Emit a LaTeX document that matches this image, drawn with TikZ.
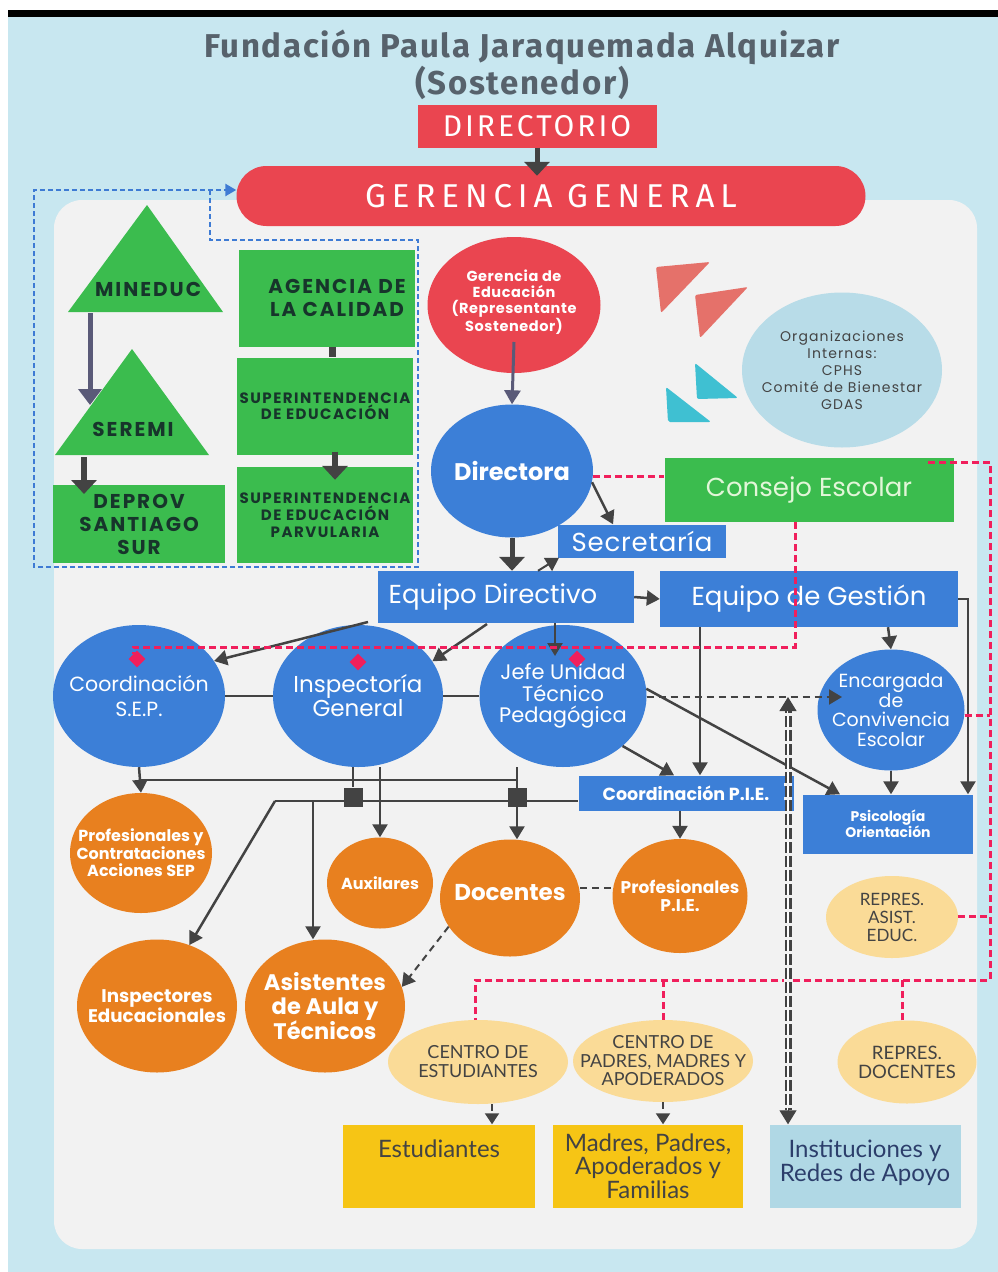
\documentclass[tikz,border=0pt]{standalone}
\usepackage{fontspec}
\setmainfont{Fira Sans}
\newfontfamily\popp{Poppins}
\newfontfamily\lato{Lato}
\usetikzlibrary{shapes.geometric, arrows.meta, positioning}
\definecolor{colorSky}{HTML}{C8E7F0}
\definecolor{colorPanel}{HTML}{F2F2F2}
\definecolor{colorTitle}{HTML}{57626C}
\definecolor{colorRed}{HTML}{EA4550}
\definecolor{colorBlue}{HTML}{3C7FD7}
\definecolor{colorGreen}{HTML}{3BBC4E}
\definecolor{colorOrange}{HTML}{E8801F}
\definecolor{colorPale}{HTML}{FADB97}
\definecolor{colorYellow}{HTML}{F6C515}
\definecolor{colorIce}{HTML}{B0D8E5}
\definecolor{colorLine}{HTML}{434343}
\definecolor{colorSlate}{HTML}{5A5A78}
\definecolor{colorPink}{HTML}{F01F5C}
\definecolor{colorDot}{HTML}{3E7BD4}
\definecolor{colorInk}{HTML}{17352B}
\definecolor{colorMint}{HTML}{E2F6D8}
\definecolor{colorNavy}{HTML}{2C3E6B}
\definecolor{colorCoral}{HTML}{E5716A}
\definecolor{colorCyan}{HTML}{3FC0D2}
\newcommand\fsz[2]{\fontsize{#1}{#2}\selectfont}
\newcommand\wide[1]{\addfontfeature{LetterSpace=#1}}

\begin{document}
\begin{tikzpicture}[x=1pt, y=-1pt,
    box/.style={rectangle, inner sep=0pt, align=center},
    bluebox/.style={box, fill=colorBlue, text=white},
    greenbox/.style={box, fill=colorGreen, text=colorInk},
    blob/.style={ellipse, inner sep=-40pt, align=center},
    blueblob/.style={blob, fill=colorBlue, text=white},
    orangeblob/.style={blob, fill=colorOrange, text=white},
    paleblob/.style={blob, fill=colorPale, text=colorLine},
    link/.style={draw=colorLine, line width=2.5pt},
    feed/.style={link, -{Triangle[length=13pt,width=15pt]}},
    heavy/.style={draw=colorLine, line width=6pt, -{Triangle[length=14pt,width=25pt]}},
    slate/.style={draw=colorSlate, line width=5pt, -{Triangle[length=16pt,width=23pt]}},
    reddash/.style={draw=colorPink, line width=3pt, dash pattern=on 7pt off 4pt},
    bluedash/.style={draw=colorDot, line width=2.5pt, dash pattern=on 5pt off 3pt},
    greydash/.style={draw=colorLine, line width=2pt, dash pattern=on 7pt off 5pt},
    rhomb/.style={diamond, fill=colorPink, inner sep=0pt, minimum width=17pt, minimum height=17pt},
    knot/.style={rectangle, fill=colorLine, minimum size=19pt, inner sep=0pt},
]
\useasboundingbox (0,0) rectangle (998,1272);
\fill[white] (0,0) rectangle (998,1272);
\fill[colorSky] (8,16) rectangle (998,1272);
\fill[black] (8,10) rectangle (998,17);
\fill[colorPanel, rounded corners=28pt] (54,200) rectangle (977,1249);

% sostenedor
\node[text=colorTitle, align=center, font=\bfseries\wide{5}\fsz{33}{30}] (title) at (522,65)
    {Fundación Paula Jaraquemada Alquizar\\(Sostenedor)};
\node[box, fill=colorRed, text=white, minimum width=239pt, minimum height=43pt, font=\wide{10}\fsz{30}{30}]
    (directorio) at (537,126) {DIRECTORIO};
\node[box, fill=colorRed, text=white, rounded corners=30pt, minimum width=629pt, minimum height=60pt,
    font=\wide{18}\fsz{33}{33}] (gerencia) at (551,196) {GERENCIA GENERAL};
\draw[heavy, line width=5pt] (directorio.south) -- ([yshift=-10pt]directorio.south |- gerencia.north);

% entorno externo
\fill[colorGreen] (147,205) -- (223,312) -- (68,312) -- cycle;
\fill[colorGreen] (132,349) -- (209,455) -- (55,455) -- cycle;
\node[text=colorInk, font=\popp\bfseries\wide{10}\fsz{20}{23}] (mineduc) at (148,289) {MINEDUC};
\node[text=colorInk, font=\popp\bfseries\wide{10}\fsz{20}{23}] (seremi) at (133,429) {SEREMI};
\node[greenbox, minimum width=172pt, minimum height=78pt, font=\popp\bfseries\wide{10}\fsz{20}{23}]
    (deprov) at (139,524) {DEPROV\\SANTIAGO\\SUR};
\node[greenbox, minimum width=176pt, minimum height=97pt, font=\popp\bfseries\wide{10}\fsz{20}{23}]
    (agencia) at (327,298) {\hspace*{20pt}AGENCIA DE\\\hspace*{20pt}LA CALIDAD};
\node[greenbox, minimum width=176pt, minimum height=97pt, font=\popp\bfseries\wide{10}\fsz{15}{16}]
    (supedu) at (325,406) {SUPERINTENDENCIA\\DE EDUCACIÓN};
\node[greenbox, minimum width=176pt, minimum height=96pt, font=\popp\bfseries\wide{10}\fsz{15}{17}]
    (supparv) at (325,515) {SUPERINTENDENCIA\\DE EDUCACIÓN\\PARVULARIA};
\coordinate (minbase) at (90,313);
\coordinate (serbase) at (84,457);
\draw[slate] (minbase) -- (90,405);
\draw[heavy] (serbase) -- (84,494);
\draw[draw=colorLine, line width=7pt] (agencia.south -| 332,0) -- (supedu.north -| 332,0);
\draw[heavy] ([xshift=10pt,yshift=3pt]supedu.south) -- ([xshift=10pt,yshift=-13pt]supparv.north);
\draw[bluedash, -{Triangle[length=11pt,width=12pt]}] (210,190) -- (210,240) -- (418,240) -- (418,567)
    -- (34,567) -- (34,190) -- (gerencia.west |- 0,190);

% organizaciones internas
\fill[colorCoral, rounded corners=2pt] (656,267) -- (710,262) -- (661,313) -- cycle;
\fill[colorCoral, rounded corners=2pt] (695,295) -- (748,287) -- (700,338) -- cycle;
\fill[colorCyan, rounded corners=2pt] (695,363) -- (738,398) -- (697,399) -- cycle;
\fill[colorCyan, rounded corners=2pt] (666,387) -- (711,422) -- (668,422) -- cycle;
\node[blob, fill=colorIce!90!white, text=colorLine, minimum width=200pt, minimum height=155pt,
    font=\popp\wide{8}\fsz{14}{17}] (orgint) at (842,370)
    {Organizaciones\\Internas:\\CPHS\\Comité de Bienestar\\GDAS};

% direccion
\node[blob, fill=colorRed, text=white, minimum width=173pt, minimum height=136pt,
    font=\popp\bfseries\wide{4}\fsz{14.5}{16}] (gered) at (514,305)
    {Gerencia de\\Educación\\(Representante\\Sostenedor)\\[-8pt]};
\node[blueblob, minimum width=162pt, minimum height=133pt, font=\popp\bfseries\fsz{24}{25}]
    (directora) at (512,471) {Directora};
\node[bluebox, minimum width=168pt, minimum height=33pt, font=\popp\wide{3}\fsz{26}{24}]
    (secretaria) at (642,541) {Secretaría};
\node[greenbox, text=colorMint, minimum width=289pt, minimum height=64pt, font=\popp\fsz{26}{24}]
    (consejo) at (809,490) {Consejo Escolar};
\node[bluebox, minimum width=256pt, minimum height=52pt, font=\popp\fsz{26}{24}]
    (eqdir) at (506,597) {Equipo Directivo\hspace*{26pt}};
\node[bluebox, minimum width=298pt, minimum height=56pt, font=\popp\fsz{26}{24}]
    (eqges) at (809,599) {Equipo de Gestión};
\draw[slate, line width=3pt, -{Triangle[length=14pt,width=16pt]}] (514,342) -- (directora.north);
\draw[feed] (directora.-8) -- (secretaria.150);
\draw[heavy, line width=5pt] (directora.south) -- (eqdir.north -| directora.south);
\draw[feed, line width=2pt] ([xshift=32pt]eqdir.north) -- ([xshift=-83pt]secretaria.south);
\draw[feed] (eqdir.east) -- (eqges.west);
\draw[reddash] (directora.east |- 0,476) -- (consejo.west |- 0,476);

% coordinaciones
\node[blueblob, minimum width=172pt, minimum height=142pt, font=\popp\fsz{20.5}{25}]
    (coosep) at (139,696) {Coordinación\\S.E.P.};
\node[blueblob, minimum width=170pt, minimum height=142pt, font=\popp\fsz{23}{24}]
    (inspgen) at (358,696) {Inspectoría\\General};
\node[blueblob, minimum width=167pt, minimum height=142pt, font=\popp\fsz{21}{21.5}]
    (jefeutp) at (563,696) {Jefe Unidad\\Técnico\\Pedagógica};
\node[blueblob, minimum width=147pt, minimum height=121pt, font=\popp\fsz{19}{19.5}]
    (convivencia) at (891,710) {Encargada\\de\\Convivencia\\Escolar};
\node[bluebox, minimum width=215pt, minimum height=35pt, font=\popp\bfseries\fsz{17.5}{16}]
    (coopie) at (686,793) {Coordinación P.I.E.};
\node[bluebox, minimum width=170pt, minimum height=59pt, font=\popp\bfseries\fsz{14}{16}]
    (psico) at (888,824) {Psicología\\Orientación};
\draw[link] (coosep.east) -- (inspgen.west);
\draw[link] (inspgen.east) -- (jefeutp.west);
\draw[feed] (368,622) -- (coosep.25);
\draw[feed] (487,624) -- (inspgen.25);
\draw[feed] (555,623) -- (555,656);
\draw[feed] (eqges.south -| 700,0) -- (coopie.north -| 700,0);
\draw[feed] (eqges.south -| 888,0) -- (convivencia.north);
\draw[feed] (eqges.east) -- (968,599) -- (psico.north -| 968,0);
\draw[feed] (convivencia.south) -- (psico.north -| convivencia.south);
\draw[feed] (jefeutp.-40) -- ([xshift=-12pt]coopie.north);
\draw[feed] (jefeutp.5) -- ([xshift=-48pt]psico.north);
\draw[greydash, -{Triangle[length=13pt,width=15pt]}] (jefeutp.east |- 0,697) -- (842,697);

% consejo escolar
\draw[reddash] (consejo.south -| 795,0) -- (795,647) -- (133,647) -- (133,654);
\node[rhomb] (dsep) at (137,659) {};
\node[rhomb] (dinsp) at (358,662) {};
\node[rhomb] (dutp) at (577,659) {};
\draw[reddash] (928,462) -- (990,462) -- (990,980) -- (475,980) -- (475,1021);
\draw[reddash] (convivencia.east |- 0,715) -- (990,715);

% equipos
\node[orangeblob, minimum width=142pt, minimum height=120pt, font=\popp\bfseries\fsz{16}{17}]
    (prosep) at (141,853) {Profesionales y\\Contrataciones\\Acciones SEP};
\node[orangeblob, minimum width=106pt, minimum height=91pt, font=\popp\bfseries\fsz{16}{16}]
    (auxi) at (380,883) {Auxilares};
\node[orangeblob, minimum width=140pt, minimum height=117pt, font=\popp\bfseries\fsz{23}{24}]
    (docentes) at (510,898) {Docentes\\[-12pt]};
\node[orangeblob, minimum width=135pt, minimum height=114pt, font=\popp\bfseries\fsz{17}{18}]
    (propie) at (680,896) {Profesionales\\P.I.E.};
\node[orangeblob, minimum width=160pt, minimum height=133pt, font=\popp\bfseries\fsz{18.3}{19}]
    (inspedu) at (157,1006) {Inspectores\\Educacionales};
\node[orangeblob, minimum width=160pt, minimum height=133pt, font=\popp\bfseries\fsz{22.5}{24}]
    (asist) at (325,1006) {Asistentes\\de Aula y\\Técnicos};
\node[knot] (knotA) at (353,797) {};
\node[knot] (knotB) at (517,797) {};
\draw[feed] (coosep.south) -- (prosep.north);
\draw[link] (coosep.south |- 0,780) -- (knotB.north |- 0,780);
\draw[link] (inspgen.south -| knotA) -- (knotA);
\draw[feed] (inspgen.south -| auxi.north) -- (auxi.north);
\draw[feed] (jefeutp.south -| knotB) -- (docentes.north -| knotB);
\draw[link] (275,801) -- (coopie.west |- 0,801);
\draw[feed] (275,801) -- (inspedu.62);
\draw[feed] (313,801) -- (asist.north -| 313,0);
\draw[feed] (coopie.south -| propie.north) -- (propie.north);
\draw[greydash] (docentes.east |- 0,888) -- (propie.west |- 0,888);
\draw[greydash, -{Triangle[length=13pt,width=15pt]}] (docentes.-155) -- (asist.14);

% comunidad
\node[paleblob, minimum width=132pt, minimum height=82pt, font=\lato\fsz{17}{18}]
    (repasis) at (892,917) {REPRES.\\ASIST.\\EDUC.};
\node[paleblob, minimum width=180pt, minimum height=84pt, font=\lato\fsz{18}{19}]
    (cenest) at (478,1062) {CENTRO DE\\ESTUDIANTES};
\node[paleblob, minimum width=180pt, minimum height=82pt, font=\lato\fsz{18}{18.5}]
    (cenpad) at (663,1061) {CENTRO DE\\PADRES, MADRES Y\\APODERADOS};
\node[paleblob, minimum width=139pt, minimum height=83pt, font=\lato\fsz{18.5}{19}]
    (repdoc) at (907,1062) {REPRES.\\DOCENTES};
\node[box, fill=colorYellow, text=colorLine, minimum width=192pt, minimum height=83pt,
    font=\lato\fsz{24}{23.5}] (estud) at (439,1166) {Estudiantes\\[12pt]};
\node[box, fill=colorYellow, text=colorLine, minimum width=190pt, minimum height=83pt,
    font=\lato\fsz{24}{23.5}] (familias) at (648,1166) {Madres, Padres,\\Apoderados y\\Familias};
\node[box, fill=colorIce, text=colorNavy, minimum width=191pt, minimum height=83pt,
    font=\lato\fsz{24}{24}] (redes) at (865,1166) {Instituciones y\\Redes de Apoyo\\[-14pt]};
\draw[reddash] (cenpad.north |- 0,980) -- (cenpad.north);
\draw[reddash] (repdoc.north -| 902,0) |- (902,980);
\draw[reddash] (repasis.east |- 0,916) -- (990,916);
\draw[greydash, -{Triangle[length=11pt,width=14pt]}] (cenest.south -| 492,0) -- (estud.north -| 492,0);
\draw[greydash, -{Triangle[length=11pt,width=14pt]}] (cenpad.south) -- (familias.north -| cenpad.south);
\coordinate (redtop) at (788,697);
\draw[draw=colorLine, line width=7pt] (redes.north -| redtop) ++(0,-14) -- ([yshift=-14pt]redtop);
\draw[draw=white, line width=2pt] (redes.north -| redtop) ++(0,-14) -- ([yshift=-14pt]redtop);
\draw[draw=colorPanel, line width=7.5pt, dash pattern=on 3pt off 11pt] (redes.north -| redtop) ++(0,-16) -- ([yshift=-16pt]redtop);
\draw[draw=colorLine, line width=1pt, -{Triangle[length=14pt,width=17pt]}] ([yshift=-16pt]redtop) -- (redtop);
\draw[draw=colorLine, line width=1pt, -{Triangle[length=14pt,width=17pt]}] (redes.north -| redtop) ++(0,-16) -- (redes.north -| redtop);
\end{tikzpicture}
\end{document}
